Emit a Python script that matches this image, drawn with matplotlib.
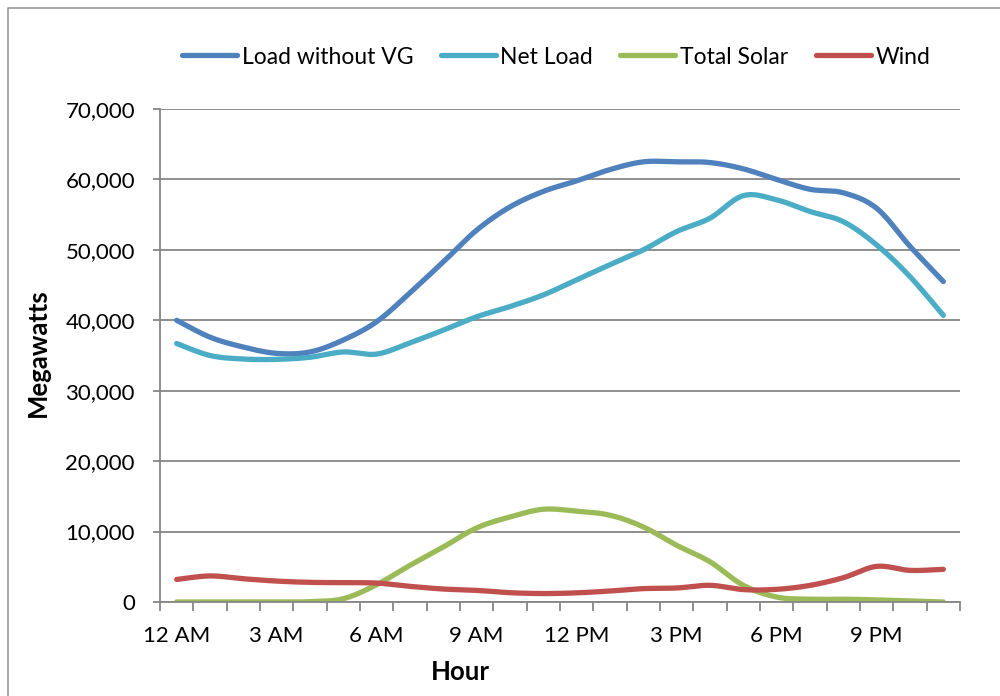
import numpy as np
import matplotlib
matplotlib.use("Agg")
import matplotlib.pyplot as plt
from matplotlib.lines import Line2D

plt.rcParams['font.family'] = ['Lato', 'DejaVu Sans']

hours = ["12 AM", "1 AM", "2 AM", "3 AM", "4 AM", "5 AM", "6 AM", "7 AM", "8 AM",
         "9 AM", "10 AM", "11 AM", "12 PM", "1 PM", "2 PM", "3 PM", "4 PM", "5 PM",
         "6 PM", "7 PM", "8 PM", "9 PM", "10 PM", "11 PM"]

load_without_vg = [40000, 37600, 36200, 35300, 35500, 37200, 39800, 43900, 48300,
                   52800, 56100, 58300, 59800, 61400, 62500, 62500, 62400, 61500,
                   60000, 58600, 58100, 55900, 50500, 45500]
net_load = [36700, 35000, 34500, 34450, 34750, 35500, 35200, 36800, 38600, 40500,
            41950, 43600, 45750, 47900, 50000, 52600, 54500, 57700, 57100, 55450,
            54000, 50700, 46200, 40700]
total_solar = [0, 0, 0, 0, 50, 470, 2460, 5210, 7810, 10520, 12080, 13170, 12890,
               12320, 10660, 8050, 5710, 2370, 700, 400, 400, 300, 150, 0]
wind = [3200, 3700, 3300, 2970, 2790, 2740, 2690, 2220, 1840, 1650, 1320, 1200,
        1300, 1560, 1900, 1990, 2370, 1760, 1800, 2360, 3450, 5060, 4490, 4640]

series = [
    ("Load without VG", load_without_vg, "#4F81BD"),
    ("Net Load", net_load, "#4BACC6"),
    ("Total Solar", total_solar, "#9BBB59"),
    ("Wind", wind, "#C0504D"),
]


def smooth(x, y, n=20):
    x = np.asarray(x, float)
    y = np.asarray(y, float)
    P = np.column_stack([x, y])
    P = np.vstack([P[0], P, P[-1]])
    out = []
    t = np.linspace(0, 1, n, endpoint=False)[:, None]
    for i in range(1, len(P) - 2):
        p0, p1, p2, p3 = P[i - 1], P[i], P[i + 1], P[i + 2]
        b1 = p1 + (p2 - p0) / 6.0
        b2 = p2 - (p3 - p1) / 6.0
        seg = ((1 - t) ** 3) * p1 + 3 * ((1 - t) ** 2) * t * b1 + 3 * (1 - t) * t ** 2 * b2 + t ** 3 * p2
        out.append(seg)
    out.append(P[-2][None, :])
    out = np.vstack(out)
    return out[:, 0], out[:, 1]


fig = plt.figure(figsize=(10, 6.96), dpi=100)
ax = fig.add_axes([0.16, 1 - 602 / 696, 0.80, (602 - 109) / 696])

xs = np.arange(len(hours))
handles = []
for name, vals, col in series:
    sx, sy = smooth(xs, vals)
    ax.plot(sx, sy, color=col, lw=3.8, solid_capstyle='round', solid_joinstyle='round')
    handles.append(Line2D([0], [0], color=col, lw=3.8, solid_capstyle='round'))

grid_col = "#868686"
fs = 16
ax.set_xlim(-0.5, len(hours) - 0.5)
ax.set_ylim(0, 70000)
ax.set_yticks(np.arange(0, 70001, 10000))
ax.set_yticklabels([f"{v:,}" for v in range(0, 70001, 10000)], fontsize=fs)
ax.yaxis.grid(True, color=grid_col, lw=1.3)
ax.set_axisbelow(True)

ax.set_xticks(np.arange(-0.5, len(hours), 1.0))
ax.set_xticklabels([])
ax.set_xticks(xs[::3], minor=True)
ax.set_xticklabels(hours[::3], minor=True, fontsize=fs)
ax.tick_params(axis='x', which='minor', length=0, pad=17)
ax.tick_params(axis='x', which='major', length=6.5, width=1.3, color=grid_col)
ax.tick_params(axis='y', length=5, width=1.3, color=grid_col, pad=13)

for s in ['top', 'right']:
    ax.spines[s].set_visible(False)
for s in ['left', 'bottom']:
    ax.spines[s].set_color(grid_col)
    ax.spines[s].set_linewidth(1.3)

fig.text(38 / 1000, 1 - 353 / 696, "Megawatts", rotation=90, ha='center', va='center',
         fontsize=18.5, fontweight='bold')
fig.text(460 / 1000, 1 - 672 / 696, "Hour", ha='center', va='center',
         fontsize=18.5, fontweight='bold')

fig.legend(handles, [s[0] for s in series], loc='center', ncol=4,
           bbox_to_anchor=(556 / 1000, 1 - 57 / 696), frameon=False, fontsize=16.5,
           handlelength=2.4, handletextpad=0.2, columnspacing=1.2)

border = Line2D([8 / 1000, 8 / 1000, 1.0], [0.0, 1 - 8 / 696, 1 - 8 / 696],
                transform=fig.transFigure, color="#9a9a9a", lw=1.2)
fig.add_artist(border)

fig.savefig("out.png", dpi=100)
